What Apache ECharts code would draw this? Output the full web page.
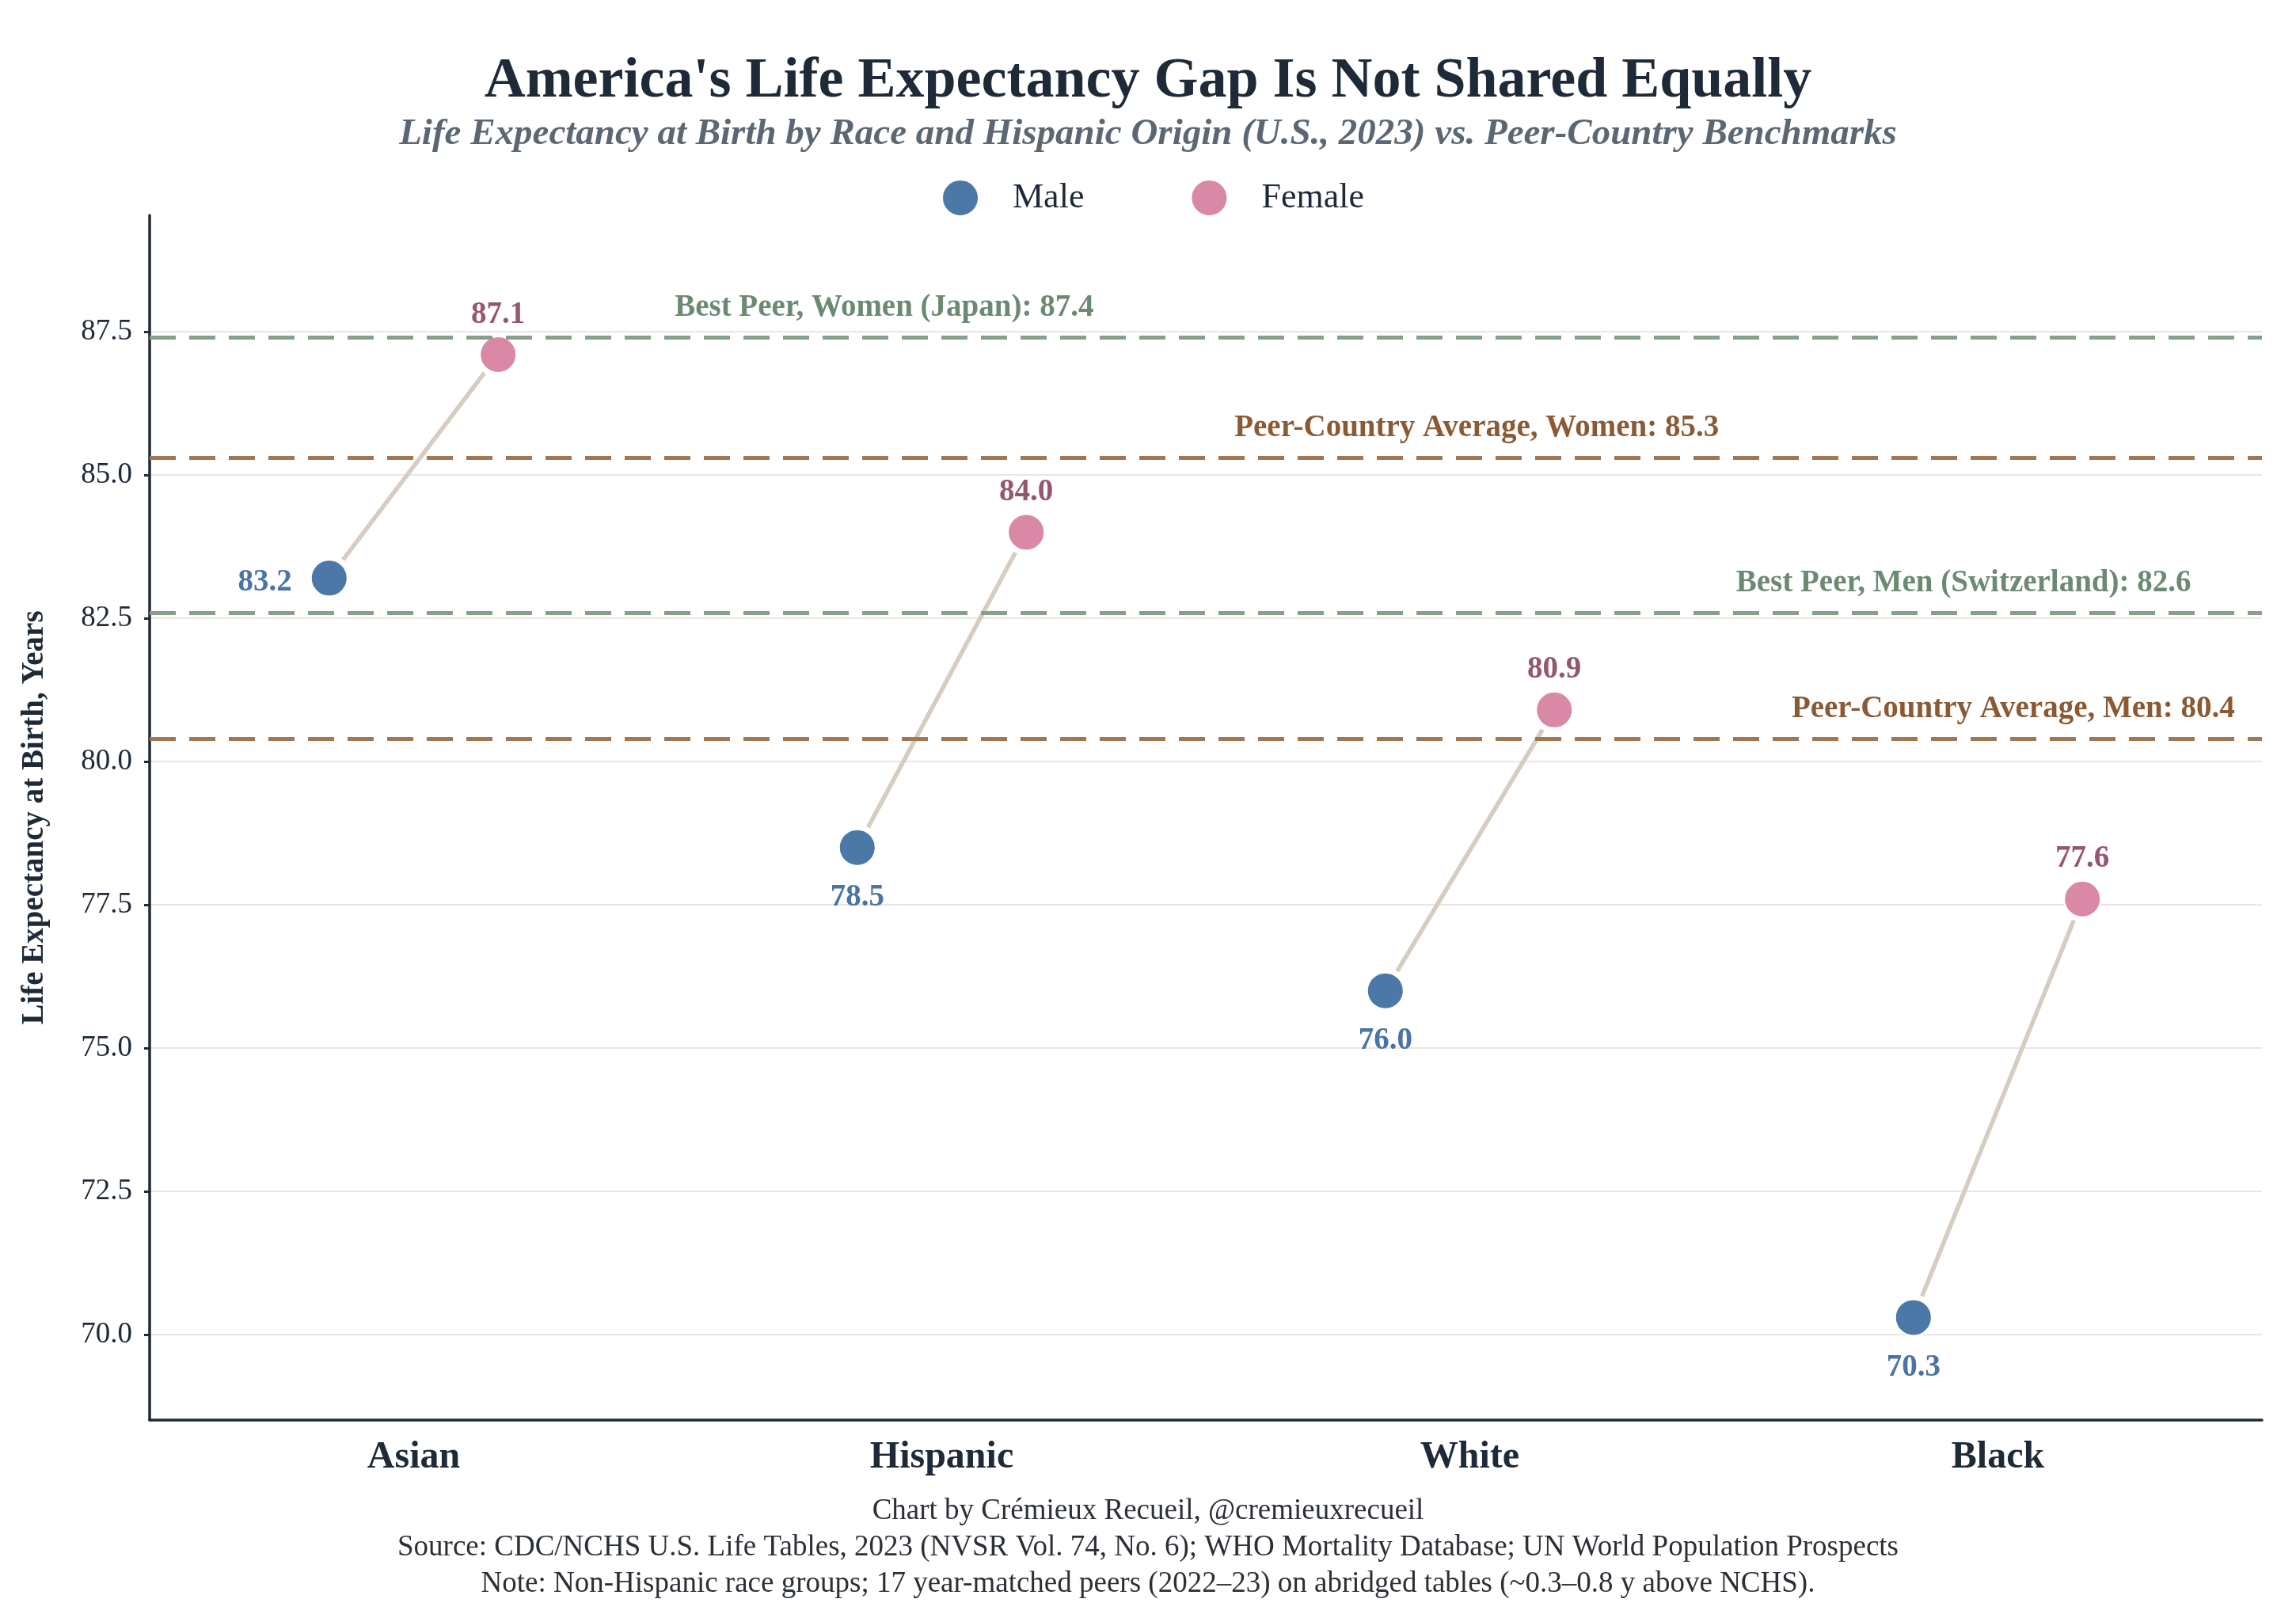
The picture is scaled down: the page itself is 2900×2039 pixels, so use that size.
<!DOCTYPE html>
<html>
<head>
<meta charset="utf-8">
<script src="https://cdn.jsdelivr.net/npm/echarts@6/dist/echarts.min.js"></script>
<style>html,body{margin:0;padding:0;background:#fff;}#c{width:2900px;height:2039px;}</style>
</head>
<body>
<div id="c"></div>
<script>
const categories = ['Asian', 'Hispanic', 'White', 'Black'];
const maleValues = [83.2, 78.5, 76.0, 70.3];
const femaleValues = [87.1, 84.0, 80.9, 77.6];
const refValues = [87.4, 85.3, 82.6, 80.4];
const refLabels = ['Best Peer, Women (Japan): 87.4', 'Peer-Country Average, Women: 85.3', 'Best Peer, Men (Switzerland): 82.6', 'Peer-Country Average, Men: 80.4'];
const yTicks = [70.0, 72.5, 75.0, 77.5, 80.0, 82.5, 85.0, 87.5];
const xTicks = [0, 1, 2, 3];

// layout / style (not data)
const FONT = 'Liberation Serif';
const OFF = 0.16;
const refStyle = [
  {line: '#87a08c', text: '#6b8a72', x: 0.891},
  {line: '#a27650', text: '#8b5a33', x: 2.013},
  {line: '#87a08c', text: '#6b8a72', x: 2.935},
  {line: '#a27650', text: '#8b5a33', x: 3.029}
];
const MALE = '#4c78a8', FEMALE = '#d988a5';
const GAP = 29;

const chart = echarts.init(document.getElementById('c'), null, {renderer: 'canvas'});

const option = {
  backgroundColor: '#fff',
  animation: false,
  title: [
    {text: "America's Life Expectancy Gap Is Not Shared Equally", left: 'center', top: 62,
     textStyle: {fontFamily: FONT, fontWeight: 'bold', fontSize: 72, lineHeight: 72, color: '#1e2a38'}},
    {text: 'Life Expectancy at Birth by Race and Hispanic Origin (U.S., 2023) vs. Peer-Country Benchmarks', left: 'center', top: 141,
     textStyle: {fontFamily: FONT, fontStyle: 'italic', fontWeight: 'bold', fontSize: 47, lineHeight: 48, color: '#5b6773'}},
    {text: 'Chart by Crémieux Recueil, @cremieuxrecueil\nSource: CDC/NCHS U.S. Life Tables, 2023 (NVSR Vol. 74, No. 6); WHO Mortality Database; UN World Population Prospects\nNote: Non-Hispanic race groups; 17 year-matched peers (2022–23) on abridged tables (~0.3–0.8 y above NCHS).',
     left: 'center', top: 1881,
     textStyle: {fontFamily: FONT, fontWeight: 'normal', fontSize: 37, lineHeight: 46, color: '#2b2f36'}}
  ],
  legend: {
    data: ['Male', 'Female'], top: 221, left: 1184, icon: 'circle', itemWidth: 46, itemHeight: 46, itemGap: 134,
    textStyle: {fontFamily: FONT, fontSize: 44, color: '#1e2a38', padding: [0, 0, 0, 38]}
  },
  grid: {left: 189, right: 43, top: 272, bottom: 245, containLabel: false},
  xAxis: {
    type: 'value', min: -0.5, max: 3.5,
    axisLine: {show: true, onZero: false, lineStyle: {color: '#1f2a36', width: 3.5}},
    axisTick: {show: false, customValues: xTicks},
    splitLine: {show: false},
    axisLabel: {customValues: xTicks, formatter: v => categories[Math.round(v)] || '', margin: 24,
      fontFamily: FONT, fontWeight: 'bold', fontSize: 48, color: '#1e2a38'}
  },
  yAxis: {
    type: 'value', min: 68.51, max: 89.53,
    name: 'Life Expectancy at Birth, Years', nameLocation: 'middle', nameGap: 126,
    nameTextStyle: {fontFamily: FONT, fontWeight: 'bold', fontSize: 39, color: '#1e2a38'},
    axisLine: {show: true, onZero: false, lineStyle: {color: '#1f2a36', width: 3.5}},
    axisTick: {show: true, length: 7, customValues: yTicks, lineStyle: {color: '#1f2a36', width: 3}},
    axisLabel: {customValues: yTicks, formatter: v => v.toFixed(1), margin: 22,
      fontFamily: FONT, fontSize: 37, color: '#1e2a38'},
    splitLine: {show: true, lineStyle: {color: '#ebe6df', width: 2}}
  },
  series: [
    {
      name: 'refs', type: 'scatter', data: [], z: 1, silent: true,
      markLine: {
        silent: true, symbol: ['none', 'none'], animation: false,
        label: {show: false},
        data: refValues.map((v, i) => ({yAxis: v, lineStyle: {color: refStyle[i].line, type: [33, 17], width: 4.8}}))
      },
      markPoint: {
        silent: true, symbol: 'circle', symbolSize: 1, itemStyle: {color: 'rgba(0,0,0,0)'}, animation: false,
        data: refValues.map((v, i) => ({
          coord: [refStyle[i].x, v], value: refLabels[i],
          label: {show: true, position: 'inside', offset: [0, -37], formatter: refLabels[i],
            fontFamily: FONT, fontWeight: 'bold', fontSize: 39, color: refStyle[i].text}
        }))
      }
    },
    {
      name: 'connectors', type: 'custom', z: 2, silent: true,
      data: categories.map((c, i) => [i - OFF, maleValues[i], i + OFF, femaleValues[i]]),
      encode: {x: [0, 2], y: [1, 3]},
      renderItem: (params, api) => {
        const p1 = api.coord([api.value(0), api.value(1)]);
        const p2 = api.coord([api.value(2), api.value(3)]);
        const dx = p2[0] - p1[0], dy = p2[1] - p1[1];
        const s = GAP / Math.hypot(dx, dy);
        return {type: 'line', shape: {x1: p1[0] + dx * s, y1: p1[1] + dy * s, x2: p2[0] - dx * s, y2: p2[1] - dy * s},
          style: {stroke: '#d6ccbf', lineWidth: 5.5}};
      }
    },
    {
      name: 'Male', type: 'scatter', z: 3, symbolSize: 46,
      itemStyle: {color: MALE, borderColor: '#fff', borderWidth: 2, opacity: 1},
      data: maleValues.map((v, i) => ({value: [i - OFF, v],
        label: i === 0 ? {position: 'left', distance: 23, offset: [0, 6]} : {position: 'bottom', distance: 20}})),
      label: {show: true, formatter: p => p.value[1].toFixed(1), fontFamily: FONT, fontWeight: 'bold', fontSize: 39, color: '#4a74a6'}
    },
    {
      name: 'Female', type: 'scatter', z: 3, symbolSize: 46,
      itemStyle: {color: FEMALE, borderColor: '#fff', borderWidth: 2, opacity: 1},
      data: femaleValues.map((v, i) => ({value: [i + OFF, v]})),
      label: {show: true, position: 'top', distance: 7, formatter: p => p.value[1].toFixed(1), fontFamily: FONT, fontWeight: 'bold', fontSize: 39, color: '#955670'}
    }
  ]
};
chart.setOption(option);
</script>
</body>
</html>
